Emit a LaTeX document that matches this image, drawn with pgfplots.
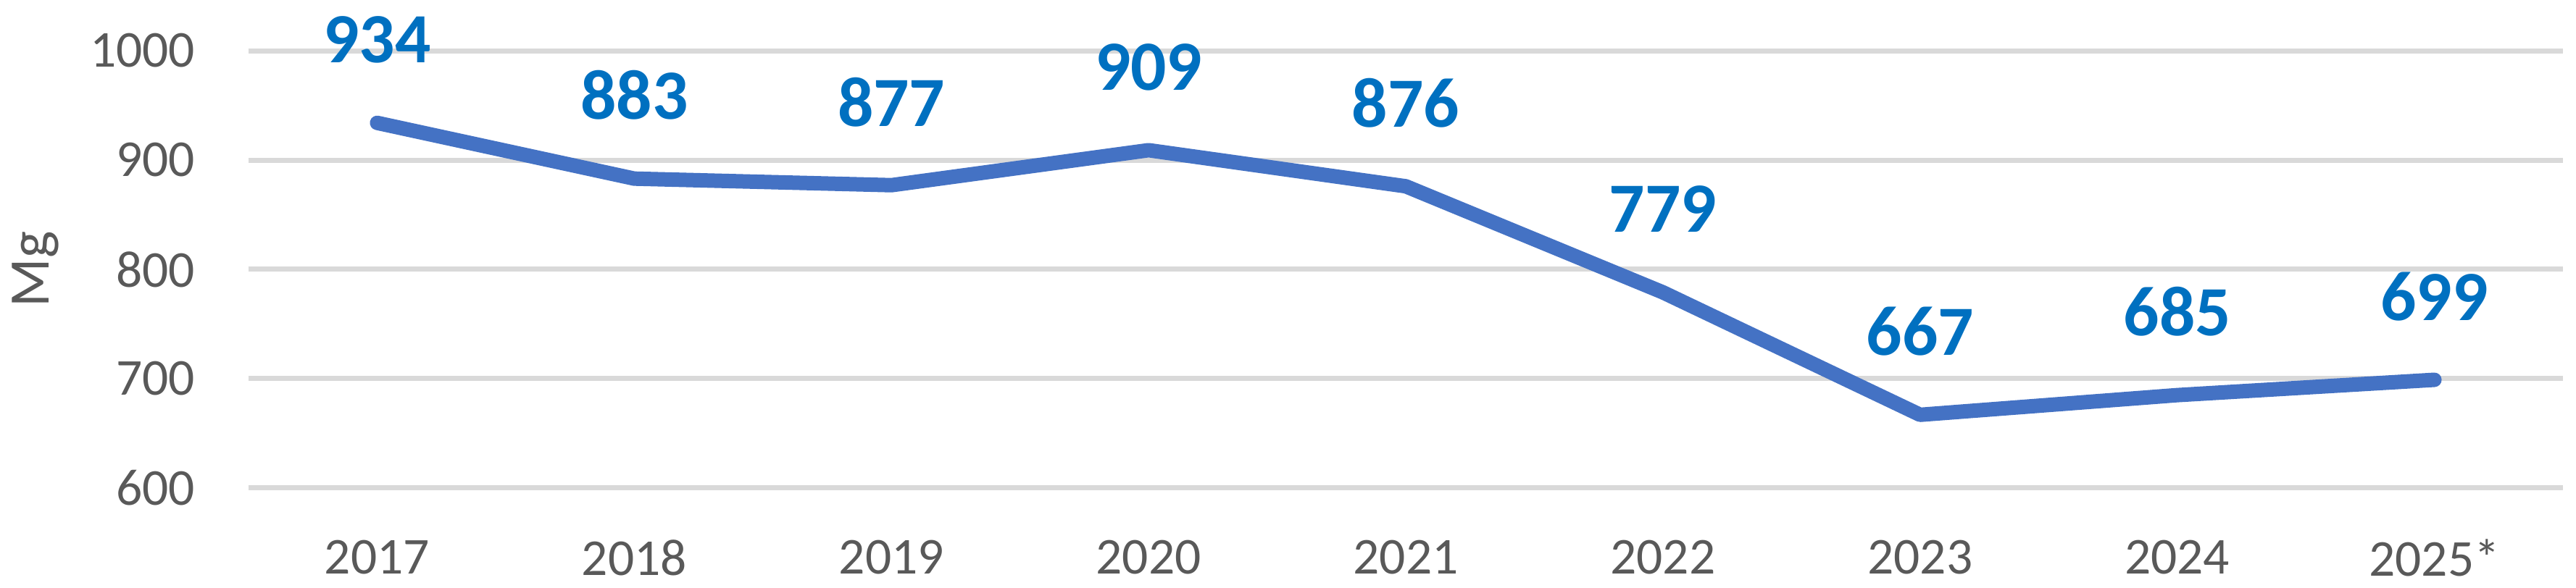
\documentclass[border=0pt]{standalone}
\usepackage{pgfplots}
\pgfplotsset{compat=1.18}
\usepackage{fontspec}
\setmainfont{Carlito}
\definecolor{tickgray}{HTML}{595959}
\definecolor{gridgray}{HTML}{D9D9D9}
\definecolor{lineblue}{HTML}{4472C4}
\definecolor{labelblue}{HTML}{0070C0}
\begin{document}
\begin{tikzpicture}
\begin{axis}[
  at={(0,0)}, anchor=south west,
  scale only axis,
  width=638.8pt, height=120.8pt,
  xmin=-0.5, xmax=8.5,
  ymin=600, ymax=1000,
  ytick={600,700,800,900,1000},
  xtick={0,...,8},
  xticklabels={2017,2018,2019,2020,2021,2022,2023,2024,2025*},
  axis line style={draw=none},
  major tick style={draw=none},
  ymajorgrids,
  grid style={gridgray, line width=1.4pt},
  /pgf/number format/assume math mode=true,
  /pgf/number format/1000 sep={},
  ticklabel style={font=\fontsize{14.3}{17}\selectfont, text=tickgray, inner sep=0pt},
  yticklabel style={anchor=east, xshift=-14.6pt},
  xticklabel style={anchor=center, yshift=-19.2pt},
  ylabel={Mg},
  every axis y label/.style={at={(axis description cs:0,0.5)}, rotate=90, anchor=center, yshift=58.9pt, font=\fontsize{15.8}{19}\selectfont, text=tickgray, inner sep=0pt},
  clip=false,
  nodes near coords,
  every node near coord/.style={anchor=center, yshift=23pt, font=\fontsize{19.5}{23}\bfseries, text=labelblue},
]
\addplot[lineblue, line width=4pt, line cap=round, line join=round] coordinates {
  (0,934) (1,883) (2,877) (3,909) (4,876) (5,779) (6,667) (7,685) (8,699)
};
\end{axis}
\pgfresetboundingbox
\path[use as bounding box] (-68.6pt,-27.6pt) rectangle (642.4pt,134.8pt);
\end{tikzpicture}
\end{document}
